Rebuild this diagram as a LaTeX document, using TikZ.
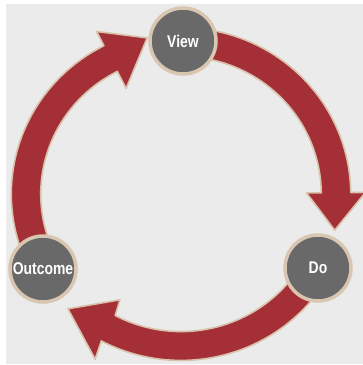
\documentclass[tikz,border=0pt]{standalone}
\usepackage{fontspec}
\setmainfont{Liberation Sans}
\usepackage{graphicx}
\definecolor{ringred}{HTML}{A42F36}
\definecolor{ringedge}{HTML}{D9C2AC}
\definecolor{bggray}{HTML}{EBEBEB}
\definecolor{circgray}{HTML}{696969}
\definecolor{circedge}{HTML}{D8C6B1}
\begin{document}
\begin{tikzpicture}[x=1pt,y=1pt,
  arrowshape/.style={fill=ringred,draw=ringedge,line width=1.6pt,line join=round},
  stage/.style={circle,fill=circgray,draw=circedge,line width=3.5pt,minimum size=66pt,inner sep=0pt,
    text=white,font=\bfseries\fontsize{17}{17}\selectfont}]
\useasboundingbox (0,0) rectangle (363,365);
\fill[white] (0,0) rectangle (363,365);
\fill[bggray] (6,1) rectangle (363,361);
\clip (0,0) rectangle (363,365);
\begin{scope}[shift={(181pt,171pt)},x=155pt,y=152pt]
  % Outcome -> View
  \draw[arrowshape] (205:1.095) -- plot[domain=205:117,samples=40] (\x:1.095)
    -- (117:1.20) -- (102:1.05) -- (117:0.78)
    -- plot[domain=117:205,samples=40] (\x:0.905) -- cycle;
  % View -> Do
  \draw[arrowshape] (85:1.095) -- plot[domain=85:0.5,samples=40] (\x:1.095)
    -- (0.5:1.19) -- (-13.5:1.02) -- (0.5:0.81)
    -- plot[domain=0.5:85,samples=40] (\x:0.905) -- cycle;
  % Do -> Outcome
  \draw[arrowshape] (-35:1.095) -- plot[domain=-35:-118,samples=40] (\x:1.095)
    -- (-117:1.22) -- (-134:1.05) -- (-119.5:0.80)
    -- plot[domain=-118:-35,samples=40] (\x:0.905) -- cycle;
\end{scope}
\node[stage] (view) at (183,324) {\scalebox{0.82}[1]{View}};
\node[stage] (do) at (318,97) {\scalebox{0.82}[1]{Do}};
\node[stage] (outcome) at (43,96) {\scalebox{0.82}[1]{Outcome}};
\end{tikzpicture}
\end{document}
